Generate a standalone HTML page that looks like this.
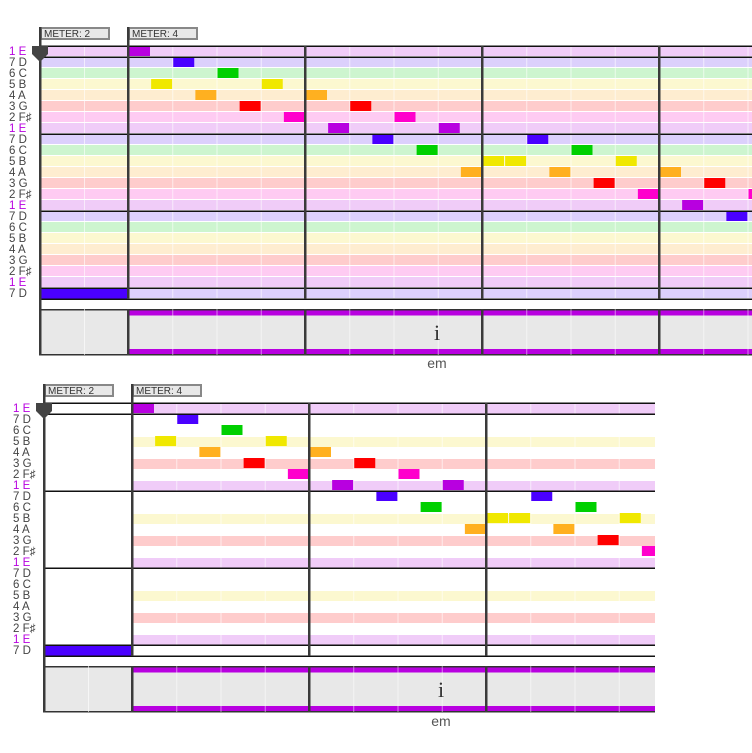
<!DOCTYPE html>
<html><head><meta charset="utf-8"><style>
body{margin:0;background:#fff;width:752px;height:753px;overflow:hidden}
svg{position:absolute;left:0;top:0}
text{font-family:"Liberation Sans",sans-serif}
</style></head><body>
<svg id="s" width="752" height="753" xmlns="http://www.w3.org/2000/svg">
<g id="g"></g>
<g font-size="10" fill="#333">
<text x="44" y="37">METER: 2</text>
<text x="132" y="37">METER: 4</text>
<text x="48" y="394">METER: 2</text>
<text x="136" y="394">METER: 4</text>
</g>
<text x="437" y="340" font-size="22" text-anchor="middle" fill="#333" style="font-family:'Liberation Serif',serif">i</text>
<text x="437" y="368" font-size="14" text-anchor="middle" fill="#555">em</text>
<text x="441" y="697" font-size="22" text-anchor="middle" fill="#333" style="font-family:'Liberation Serif',serif">i</text>
<text x="441" y="726" font-size="14" text-anchor="middle" fill="#555">em</text>
<g font-size="11.5">
<text x="9" y="55" fill="#b800e0">1 E</text><text x="9" y="66" fill="#444">7 D</text><text x="9" y="77" fill="#444">6 C</text><text x="9" y="88" fill="#444">5 B</text><text x="9" y="99" fill="#444">4 A</text><text x="9" y="110" fill="#444">3 G</text><text x="9" y="121" fill="#444">2 F♯</text>
<text x="9" y="132" fill="#b800e0">1 E</text><text x="9" y="143" fill="#444">7 D</text><text x="9" y="154" fill="#444">6 C</text><text x="9" y="165" fill="#444">5 B</text><text x="9" y="176" fill="#444">4 A</text><text x="9" y="187" fill="#444">3 G</text><text x="9" y="198" fill="#444">2 F♯</text>
<text x="9" y="209" fill="#b800e0">1 E</text><text x="9" y="220" fill="#444">7 D</text><text x="9" y="231" fill="#444">6 C</text><text x="9" y="242" fill="#444">5 B</text><text x="9" y="253" fill="#444">4 A</text><text x="9" y="264" fill="#444">3 G</text><text x="9" y="275" fill="#444">2 F♯</text>
<text x="9" y="286" fill="#b800e0">1 E</text><text x="9" y="297" fill="#444">7 D</text>
<text x="13" y="412" fill="#b800e0">1 E</text><text x="13" y="423" fill="#444">7 D</text><text x="13" y="434" fill="#444">6 C</text><text x="13" y="445" fill="#444">5 B</text><text x="13" y="456" fill="#444">4 A</text><text x="13" y="467" fill="#444">3 G</text><text x="13" y="478" fill="#444">2 F♯</text>
<text x="13" y="489" fill="#b800e0">1 E</text><text x="13" y="500" fill="#444">7 D</text><text x="13" y="511" fill="#444">6 C</text><text x="13" y="522" fill="#444">5 B</text><text x="13" y="533" fill="#444">4 A</text><text x="13" y="544" fill="#444">3 G</text><text x="13" y="555" fill="#444">2 F♯</text>
<text x="13" y="566" fill="#b800e0">1 E</text><text x="13" y="577" fill="#444">7 D</text><text x="13" y="588" fill="#444">6 C</text><text x="13" y="599" fill="#444">5 B</text><text x="13" y="610" fill="#444">4 A</text><text x="13" y="621" fill="#444">3 G</text><text x="13" y="632" fill="#444">2 F♯</text>
<text x="13" y="643" fill="#b800e0">1 E</text><text x="13" y="654" fill="#444">7 D</text>
</g>
</svg>
<script>
const g=document.getElementById('g');const NS='http://www.w3.org/2000/svg';
function R(x,y,w,h,f){const r=document.createElementNS(NS,'rect');r.setAttribute('x',x);r.setAttribute('y',y);r.setAttribute('width',w);r.setAttribute('height',h);r.setAttribute('fill',f);g.appendChild(r);}
function P(d,f){const r=document.createElementNS(NS,'path');r.setAttribute('d',d);r.setAttribute('fill',f);g.appendChild(r);}
const names=['E','D','C','B','A','G','F'];
const bg={E:'#f0ccf8',D:'#dcd0fc',C:'#cdf5cf',B:'#fcf8d0',A:'#feedd0',G:'#fecccc',F:'#fecbf2'};
const nc={E:'#b800e0',D:'#4a00ff',C:'#00d000',B:'#f0e800',A:'#ffb020',G:'#ff0000',F:'#ff00cc'};
const notes=[[0,0],[1,2],[2,4],[3,1],[3,6],[4,3],[4,8],[5,5],[5,10],[6,7],[6,12],[7,9],[7,14],[8,11],[8,18],[9,13],[9,20],[10,16],[10,17],[10,22],[11,15],[11,19],[11,24],[12,21],[12,26],[13,23],[13,28],[14,25],[15,27]];
function chart(X0,M1,T,RT,full,mY){
  const B=44.25;
  R(X0,mY,70,13,'#888');R(X0+2,mY+2,66,9,'#e8e8e8');
  R(M1,mY,70,13,'#888');R(M1+2,mY+2,66,9,'#e8e8e8');
  for(let i=0;i<23;i++){const p=names[i%7];const y=T+i*11;
    if(full){ if(i<22) R(X0,y,RT-X0,10,bg[p]); else R(M1,y,RT-M1,10,bg[p]); }
    else { if(i>0&&i<22&&(p=='E'||p=='B'||p=='G')) R(M1,y+1,RT-M1,10,bg[p]); if(i==0) R(M1,y,RT-M1,11,bg[p]); }
  }
  R(X0+44,T,1,253,'rgba(255,255,255,.6)');
  for(let k=1;k<20;k++){const x=M1+k*B; if(x>=RT)break; R(x,T,1,253,'rgba(255,255,255,.6)');}
  for(const [r,k] of notes){const x=M1+k*22.125+1;if(x>=RT)continue;R(x,T+r*11,Math.min(21,RT-x),10,nc[names[r%7]]);}
  R(X0,T+22*11,M1-X0,11,'#4a00ff');
  for(const h of [0,11,88,165,242,253]) R(X0,T+h-0.5,RT-X0,1.5,'#111');
  const LY=T+263,LH=46;
  R(X0,LY,RT-X0,LH,'#e8e8e8');R(X0,LY,RT-X0,1.5,'#333');R(X0,LY+LH-1,RT-X0,1.5,'#333');
  R(M1,LY+1.5,RT-M1,5,'#b800e0');R(M1,LY+LH-6,RT-M1,5,'#b800e0');
  R(X0+44,LY,1,LH,'rgba(255,255,255,.6)');
  for(let k=1;k<20;k++){const x=M1+k*B;if(x>=RT)break;R(x,LY,1,LH,'rgba(255,255,255,.5)');}
  R(X0-1,mY,2.5,LY+LH-mY+0.5,'#3a3a3a');
  R(M1-1,mY,2.5,T+253-mY,'#3a3a3a');R(M1-1,LY,2.5,LH,'#3a3a3a');
  for(let m=1;m<4;m++){const x=M1+m*177;if(x>=RT-1)break;R(x-1,T,2.5,253,'#3a3a3a');R(x-1,LY,2.5,LH,'#3a3a3a');}
  P(`M${X0-8} ${T} h16 v8 l-8 8 l-8 -8 z`,'#444');
}
chart(40,128,46,752,true,27);
chart(44,132,403,655,false,384);
</script>
</body></html>
